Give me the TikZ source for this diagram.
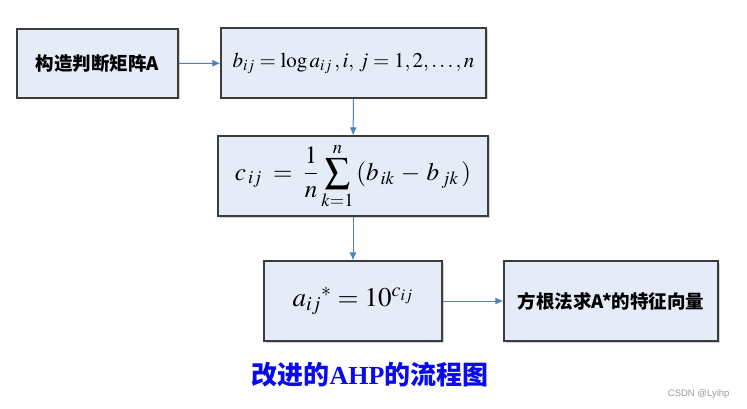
\documentclass[tikz,border=0pt]{standalone}
\usepackage{amsmath}
\usepackage{mathptmx}
\usepackage{fontspec}
\usepackage{xcolor}
\usepackage{tikz}
\usetikzlibrary{positioning, arrows.meta, calc, shadows}
\setmainfont{Liberation Serif}
\newfontfamily\cjk{Noto Sans CJK SC}
\newfontfamily\wmfont{Liberation Sans}
\definecolor{boxfill}{HTML}{E6ECF7}
\definecolor{boxline}{HTML}{3C3C3C}
\definecolor{flowblue}{HTML}{4F81BD}
\definecolor{titleblue}{HTML}{0A0AF0}
\definecolor{wmgray}{HTML}{9A9A9A}

\begin{document}
\begin{tikzpicture}[x=1pt, y=-1pt,
  flowbox/.style={draw=boxline, fill=boxfill, line width=1.3pt, inner sep=0pt,
    drop shadow={shadow xshift=1.5pt, shadow yshift=-1.5pt, opacity=0.35}},
  flowarrow/.style={-{Latex[length=8pt, width=7pt]}, flowblue, line width=1pt}]
  \useasboundingbox (0,0) rectangle (747,409);
  \node[flowbox, minimum width=161pt, minimum height=69pt] (mat) at (97.5,63.5)
    {\cjk\bfseries\fontsize{18.5}{22}\selectfont 构造判断矩阵A};
  \node[flowbox, minimum width=265pt, minimum height=70pt] (logb) at (353.5,63)
    {\fontsize{21}{25}\selectfont $b_{ij}=\log a_{ij}\,,i,\,j=1,2,\ldots,n$};
  \node[flowbox, minimum width=270pt, minimum height=80pt] (cij) at (353,176)
    {\fontsize{25}{30}\selectfont $\displaystyle c_{\,ij}\;=\;\frac{1}{n}\sum_{k=1}^{n}\,(b_{\,ik}\,-\,b_{\,jk}\,)$};
  \node[flowbox, minimum width=178pt, minimum height=80pt] (astar) at (353,301)
    {\fontsize{27}{32}\selectfont $a_{ij}{}^{*}=10^{c_{ij}}$};
  \node[flowbox, minimum width=214pt, minimum height=80pt] (eig) at (611,301)
    {\cjk\bfseries\fontsize{18.5}{22}\selectfont 方根法求A*的特征向量};
  \draw[flowarrow] (mat) -- (logb);
  \draw[flowarrow] (logb) -- (cij);
  \draw[flowarrow] (cij) -- (astar);
  \draw[flowarrow] (astar) -- (eig);
  % caption and watermark
  \node[text=titleblue, font=\fontsize{26}{30}\selectfont\bfseries] (title) at (370,375)
    {\cjk 改进的\textrm{AHP}的流程图};
  \node[text=wmgray, anchor=east, font=\wmfont\fontsize{9.5}{11}\selectfont] (wm) at (733,394)
    {CSDN @Lyihp};
\end{tikzpicture}
\end{document}
